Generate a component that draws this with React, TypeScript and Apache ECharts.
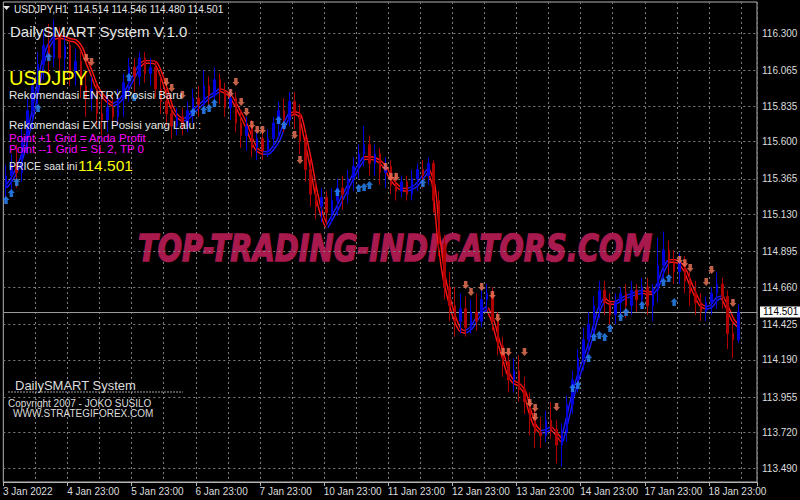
import React, { useEffect, useRef } from "react";
import * as echarts from "echarts";

const dateLabels = ["3 Jan 2022", "4 Jan 23:00", "5 Jan 23:00", "6 Jan 23:00", "7 Jan 23:00", "10 Jan 23:00", "11 Jan 23:00", "12 Jan 23:00", "13 Jan 23:00", "14 Jan 23:00", "17 Jan 23:00", "18 Jan 23:00"];
const priceTicks = ["116.300", "116.065", "115.835", "115.600", "115.365", "115.130", "114.895", "114.660", "114.425", "114.190", "113.955", "113.720", "113.490"];
const currentPrice = 114.501;
const slotCount = 141;

// [open, close, low, high] per 2-hour bar
const candles = [
  [115.30, 115.38, 115.20, 115.45], [115.38, 115.45, 115.26, 115.52], [115.45, 115.40, 115.30, 115.58], [115.40, 115.62, 115.34, 115.70],
  [115.62, 115.80, 115.52, 115.88], [115.80, 115.96, 115.68, 116.02], [115.96, 116.10, 115.84, 116.18], [116.10, 116.22, 116.00, 116.32],
  [116.22, 116.14, 116.02, 116.36], [116.14, 116.30, 116.08, 116.39], [116.30, 116.14, 116.06, 116.34], [116.14, 116.22, 116.04, 116.28],
  [116.22, 116.04, 115.96, 116.26], [116.04, 116.12, 115.96, 116.20], [116.12, 115.96, 115.88, 116.18], [115.96, 115.88, 115.76, 116.06],
  [115.88, 115.94, 115.80, 116.02], [115.94, 115.78, 115.70, 115.98], [115.78, 115.74, 115.64, 115.88], [115.74, 115.82, 115.66, 115.90],
  [115.82, 115.76, 115.70, 115.92], [115.76, 115.88, 115.70, 115.94], [115.88, 115.98, 115.76, 116.04], [115.98, 116.08, 115.86, 116.14],
  [116.08, 116.02, 115.92, 116.14], [116.02, 116.14, 115.96, 116.18], [116.14, 116.04, 115.98, 116.18], [116.04, 116.08, 115.96, 116.14],
  [116.08, 115.94, 115.88, 116.12], [115.94, 115.86, 115.78, 116.02], [115.86, 115.78, 115.70, 115.94], [115.78, 115.70, 115.62, 115.84],
  [115.70, 115.76, 115.64, 115.82], [115.76, 115.70, 115.64, 115.82], [115.70, 115.80, 115.66, 115.86], [115.80, 115.88, 115.72, 115.94],
  [115.88, 115.84, 115.76, 115.96], [115.84, 115.96, 115.78, 116.06], [115.96, 115.90, 115.82, 116.02], [115.90, 116.00, 115.84, 116.08],
  [116.00, 115.92, 115.84, 116.04], [115.92, 115.82, 115.76, 115.98], [115.82, 115.88, 115.74, 115.94], [115.88, 115.72, 115.66, 115.92],
  [115.72, 115.64, 115.56, 115.80], [115.64, 115.70, 115.54, 115.76], [115.70, 115.56, 115.50, 115.74], [115.56, 115.62, 115.48, 115.68],
  [115.62, 115.54, 115.48, 115.68], [115.54, 115.62, 115.50, 115.68], [115.62, 115.72, 115.56, 115.76], [115.72, 115.80, 115.62, 115.86],
  [115.80, 115.74, 115.66, 115.88], [115.74, 115.86, 115.70, 115.92], [115.86, 115.78, 115.68, 115.92], [115.78, 115.60, 115.52, 115.84],
  [115.60, 115.42, 115.34, 115.66], [115.42, 115.26, 115.18, 115.50], [115.26, 115.18, 115.10, 115.36], [115.18, 115.24, 115.08, 115.30],
  [115.24, 115.14, 115.06, 115.28], [115.14, 115.22, 115.08, 115.30], [115.22, 115.30, 115.12, 115.36], [115.30, 115.26, 115.16, 115.38],
  [115.26, 115.36, 115.20, 115.42], [115.36, 115.44, 115.28, 115.50], [115.44, 115.52, 115.36, 115.58], [115.52, 115.58, 115.44, 115.70],
  [115.58, 115.46, 115.38, 115.64], [115.46, 115.52, 115.38, 115.58], [115.52, 115.40, 115.32, 115.56], [115.40, 115.44, 115.30, 115.50],
  [115.44, 115.32, 115.26, 115.48], [115.32, 115.28, 115.22, 115.40], [115.28, 115.34, 115.24, 115.38], [115.34, 115.26, 115.22, 115.38],
  [115.26, 115.36, 115.22, 115.42], [115.36, 115.42, 115.28, 115.46], [115.42, 115.38, 115.30, 115.48], [115.38, 115.46, 115.32, 115.50],
  [115.46, 115.22, 115.14, 115.48], [115.22, 114.94, 114.86, 115.28], [114.94, 114.66, 114.58, 115.00], [114.66, 114.54, 114.44, 114.76],
  [114.54, 114.44, 114.34, 114.66], [114.44, 114.52, 114.36, 114.62], [114.52, 114.40, 114.34, 114.60], [114.40, 114.50, 114.36, 114.58],
  [114.50, 114.44, 114.38, 114.62], [114.44, 114.58, 114.40, 114.66], [114.58, 114.62, 114.50, 114.68], [114.62, 114.44, 114.38, 114.66],
  [114.44, 114.28, 114.22, 114.50], [114.28, 114.18, 114.08, 114.34], [114.18, 114.06, 113.98, 114.26], [114.06, 114.12, 113.98, 114.20],
  [114.12, 114.00, 113.92, 114.22], [114.00, 113.92, 113.84, 114.08], [113.92, 113.80, 113.70, 113.98], [113.80, 113.72, 113.62, 113.88],
  [113.72, 113.70, 113.62, 113.82], [113.70, 113.80, 113.66, 113.86], [113.80, 113.74, 113.68, 113.92], [113.74, 113.64, 113.52, 113.80],
  [113.64, 113.72, 113.50, 113.78], [113.72, 113.90, 113.66, 113.96], [113.90, 114.06, 113.84, 114.12], [114.06, 114.20, 113.98, 114.26],
  [114.20, 114.32, 114.12, 114.40], [114.32, 114.42, 114.24, 114.50], [114.42, 114.54, 114.34, 114.60], [114.54, 114.64, 114.46, 114.70],
  [114.64, 114.56, 114.48, 114.70], [114.56, 114.48, 114.40, 114.62], [114.48, 114.56, 114.42, 114.62], [114.56, 114.62, 114.46, 114.66],
  [114.62, 114.54, 114.46, 114.68], [114.54, 114.64, 114.48, 114.70], [114.64, 114.58, 114.50, 114.68], [114.58, 114.66, 114.52, 114.72],
  [114.66, 114.54, 114.48, 114.72], [114.54, 114.64, 114.44, 114.68], [114.64, 114.80, 114.56, 114.98], [114.80, 114.90, 114.70, 115.02],
  [114.90, 114.82, 114.74, 114.96], [114.82, 114.76, 114.68, 114.90], [114.76, 114.82, 114.68, 114.88], [114.82, 114.70, 114.62, 114.86],
  [114.70, 114.62, 114.54, 114.76], [114.62, 114.56, 114.48, 114.70], [114.56, 114.50, 114.44, 114.62], [114.50, 114.56, 114.44, 114.60],
  [114.56, 114.62, 114.48, 114.66], [114.62, 114.68, 114.52, 114.76], [114.68, 114.60, 114.52, 114.72], [114.60, 114.36, 114.26, 114.64],
  [114.36, 114.32, 114.20, 114.44], [114.32, 114.501, 114.30, 114.55],
];

// smoothed trend line (DailySMART band centre) per bar
const trendLine = [
  115.307, 115.352, 115.417, 115.501, 115.636, 115.779, 115.959, 116.121, 116.218, 116.270,
  116.276, 116.270, 116.257, 116.250, 116.211, 116.127, 116.043, 115.953, 115.901, 115.863,
  115.837, 115.856, 115.895, 115.959, 116.024, 116.089, 116.115, 116.115, 116.108, 116.037,
  115.934, 115.824, 115.766, 115.740, 115.753, 115.791, 115.824, 115.856, 115.888, 115.908,
  115.934, 115.921, 115.895, 115.837, 115.772, 115.701, 115.611, 115.546, 115.527, 115.527,
  115.559, 115.611, 115.701, 115.772, 115.785, 115.766, 115.624, 115.462, 115.275, 115.139,
  115.049, 115.107, 115.171, 115.242, 115.307, 115.378, 115.443, 115.494, 115.494, 115.488,
  115.468, 115.430, 115.365, 115.320, 115.294, 115.288, 115.300, 115.326, 115.372, 115.417,
  115.320, 114.965, 114.719, 114.571, 114.454, 114.383, 114.370, 114.396, 114.448, 114.499,
  114.525, 114.448, 114.325, 114.215, 114.099, 114.047, 114.028, 113.983, 113.860, 113.763,
  113.724, 113.731, 113.750, 113.711, 113.666, 113.802, 113.950, 114.073, 114.176, 114.273,
  114.396, 114.519, 114.583, 114.558, 114.558, 114.577, 114.596, 114.609, 114.622, 114.629,
  114.622, 114.622, 114.674, 114.771, 114.829, 114.829, 114.816, 114.771, 114.687, 114.609,
  114.545, 114.525, 114.538, 114.583, 114.596, 114.525, 114.448, 114.409,
];

const trendSegments: [string, number, number][] = [
  ["up", 0, 9], ["down", 9, 20], ["up", 20, 25], ["down", 25, 33], ["up", 33, 40], ["down", 40, 48],
  ["up", 48, 53], ["down", 53, 60], ["up", 60, 67], ["down", 67, 75], ["up", 75, 79], ["down", 79, 86],
  ["up", 86, 90], ["down", 90, 100], ["up", 100, 102], ["down", 102, 104], ["up", 104, 112], ["down", 112, 114],
  ["up", 114, 119], ["down", 119, 121], ["up", 121, 124], ["down", 124, 131], ["up", 131, 134], ["down", 134, 137],
];

const downArrows = [
  [15, 116.14], [16, 116.115], [30, 115.985], [31, 115.947], [33, 115.901], [42, 115.914], [43, 115.985],
  [44, 115.856], [45, 115.791], [46, 115.708], [47, 115.675], [48, 115.675], [54, 115.643], [55, 115.481],
  [71, 115.436], [72, 115.372], [73, 115.372], [86, 114.674], [87, 114.629], [89, 114.661], [91, 114.609],
  [92, 114.461], [93, 114.241], [94, 114.241], [97, 114.241], [98, 113.912], [99, 113.879], [99, 113.821],
  [103, 113.886], [126, 114.835], [127, 114.815], [128, 114.784], [131, 114.693], [132, 114.771], [136, 114.558],
];

const upArrows = [
  [0, 115.223], [1, 115.268], [2, 115.339], [6, 115.817], [8, 116.147], [23, 116.018], [24, 115.888],
  [35, 115.791], [37, 115.804], [38, 115.817], [39, 115.85], [51, 115.74], [52, 115.708], [62, 115.275],
  [66, 115.301], [67, 115.307], [68, 115.32], [78, 115.333], [106, 114.009], [107, 114.028], [109, 114.202],
  [110, 114.338], [111, 114.351], [112, 114.338], [113, 114.396], [115, 114.467], [116, 114.499], [119, 114.545],
  [123, 114.693], [124, 114.719], [125, 114.564],
];

const axisFont = "'Liberation Sans Narrow', 'Liberation Sans', Arial, sans-serif";
const textFont = "'Liberation Sans', Arial, sans-serif";

function buildOption() {
  const cats = Array.from({ length: slotCount }, (_, i) => String(i));
  const segSeries = trendSegments.flatMap(([dir, s, e]) => {
    const data = trendLine.map((v, i) => (i >= s && i <= e ? v : null));
    const col = dir === "up" ? "#1a1aff" : "#ff1414";
    return [
      { type: "line", data, symbol: "none", smooth: 0.3, silent: true, z: 3, lineStyle: { color: col, width: 4 } },
      { type: "line", data, symbol: "none", smooth: 0.3, silent: true, z: 4, lineStyle: { color: "#000", width: 1.2 } },
    ];
  });
  const txt = (text: string, x: number, y: number, size: number, fill: string, family = textFont) => ({
    type: "text",
    z: 100,
    silent: true,
    style: {
      text, x, y, fill,
      font: `${size}px ${family}`,
      align: "left", textAlign: "left",
      verticalAlign: "middle", textVerticalAlign: "middle",
    },
  });
  return {
    animation: false,
    backgroundColor: "#000",
    grid: { left: 2, right: 43, top: 2, bottom: 18, show: true, borderColor: "#b4b4b4", borderWidth: 1, backgroundColor: "transparent" },
    xAxis: {
      type: "category",
      data: cats,
      boundaryGap: true,
      axisLine: { show: true, lineStyle: { color: "#b4b4b4" } },
      axisTick: { show: true, length: 4, interval: (i: number) => i % 12 === 0, lineStyle: { color: "#b4b4b4" } },
      axisLabel: {
        show: true,
        interval: (i: number) => i % 12 === 0,
        formatter: (_v: string, i: number) => (i % 12 === 0 && dateLabels[i / 12]) || "",
        color: "#dcdcdc",
        fontSize: 10,
        fontFamily: axisFont,
        align: "left",
        margin: 4,
        padding: [0, 0, 0, -3],
      },
      splitLine: { show: true, interval: (i: number) => i % 6 === 0 && i > 0, lineStyle: { color: "#7f7f7f", type: [2, 3], width: 1 } },
    },
    yAxis: {
      type: "value",
      position: "right",
      min: 113.401,
      max: 116.502,
      axisLine: { show: false },
      axisTick: { show: false },
      axisLabel: { show: false },
      splitLine: { show: false },
    },
    series: [
      {
        type: "line",
        data: [],
        z: 1,
        silent: true,
        markLine: {
          silent: true,
          symbol: ["none", "none"],
          label: { position: "end", color: "#dcdcdc", fontSize: 10, fontFamily: axisFont, distance: 5 },
          lineStyle: { color: "#7f7f7f", type: [2, 3], width: 1 },
          emphasis: { disabled: true },
          data: priceTicks.map((t) => ({ yAxis: Number(t), label: { formatter: t } })),
        },
      },
      {
        type: "candlestick",
        data: candles,
        barWidth: 2,
        z: 5,
        silent: true,
        itemStyle: { color: "#0000dc", color0: "#b00000", borderColor: "#0000dc", borderColor0: "#b00000", borderWidth: 1 },
        markLine: {
          silent: true,
          symbol: ["none", "none"],
          label: {
            position: "end", color: "#000", backgroundColor: "#fff", fontSize: 10, fontFamily: axisFont,
            distance: 3, padding: [1, 3, 0, 3],
          },
          lineStyle: { color: "#9a9a9a", type: "solid", width: 1 },
          emphasis: { disabled: true },
          data: [{ yAxis: currentPrice, label: { formatter: currentPrice.toFixed(3) } }],
        },
      },
      ...segSeries,
      {
        type: "scatter",
        data: downArrows,
        z: 6,
        silent: true,
        symbol: "path://M2,0 H6 V4 H8 L4,8 L0,4 H2 Z",
        symbolSize: [7, 8],
        itemStyle: { color: "#f4785a" },
      },
      {
        type: "scatter",
        data: upArrows,
        z: 6,
        silent: true,
        symbol: "path://M4,0 L8,4 H6 V8 H2 V4 H0 Z",
        symbolSize: [7, 8],
        itemStyle: { color: "#2b8cff" },
      },
    ],
    graphic: [
      {
        type: "text",
        x: 395,
        y: 248,
        scaleX: 0.78,
        z: 1,
        silent: true,
        style: {
          text: "TOP-TRADING-INDICATORS.COM",
          x: 0, y: 0,
          fill: "#a8194e",
          stroke: "#a8194e",
          lineWidth: 1.5,
          font: "italic bold 37px 'DejaVu Sans', sans-serif",
          align: "center", textAlign: "center",
          verticalAlign: "middle", textVerticalAlign: "middle",
        },
      },
      { type: "polygon", z: 100, silent: true, shape: { points: [[3, 6], [10, 6], [6.5, 10]] }, style: { fill: "#e6e6e6" } },
      txt("USDJPY,H1  114.514 114.546 114.480 114.501", 14, 9, 10, "#e6e6e6", axisFont),
      txt("DailySMART System V.1.0", 10, 31, 15, "#e6e6e6"),
      txt("USDJPY", 9, 78, 20, "#ffff00"),
      txt("Rekomendasi ENTRY Posisi Baru", 9, 95, 11.5, "#e6e6e6"),
      txt("Rekomendasi EXIT Posisi yang Lalu :", 9, 125, 11.5, "#e6e6e6"),
      txt("Point +1 Grid = Anda Profit", 9, 138, 11.5, "#ff00ff"),
      txt("Point --1 Grid = SL 2, TP 0", 9, 149, 11.5, "#ff00ff"),
      txt("PRICE saat ini", 9, 166, 10.5, "#e6e6e6"),
      txt("114.501", 78, 165, 15.5, "#ffff00"),
      txt("DailySMART System", 15, 385, 13, "#dcdcdc"),
      {
        type: "line", z: 100, silent: true,
        shape: { x1: 8, y1: 392, x2: 183, y2: 392 },
        style: { stroke: "#a0a0a0", lineWidth: 1, lineDash: [2, 1] },
      },
      txt("Copyright 2007 - JOKO SUSILO", 8, 403, 10, "#dcdcdc"),
      txt("WWW.STRATEGIFOREX.COM", 13, 413, 10, "#dcdcdc"),
    ],
  };
}

export default function App() {
  const ref = useRef<HTMLDivElement>(null);
  useEffect(() => {
    const chart = echarts.init(ref.current as HTMLDivElement, undefined, { renderer: "svg" });
    chart.setOption(buildOption() as any);
    return () => chart.dispose();
  }, []);
  return (
    <div
      ref={ref}
      style={{ position: "fixed", left: 0, top: 0, width: 800, height: 500, background: "#000" }}
    />
  );
}
